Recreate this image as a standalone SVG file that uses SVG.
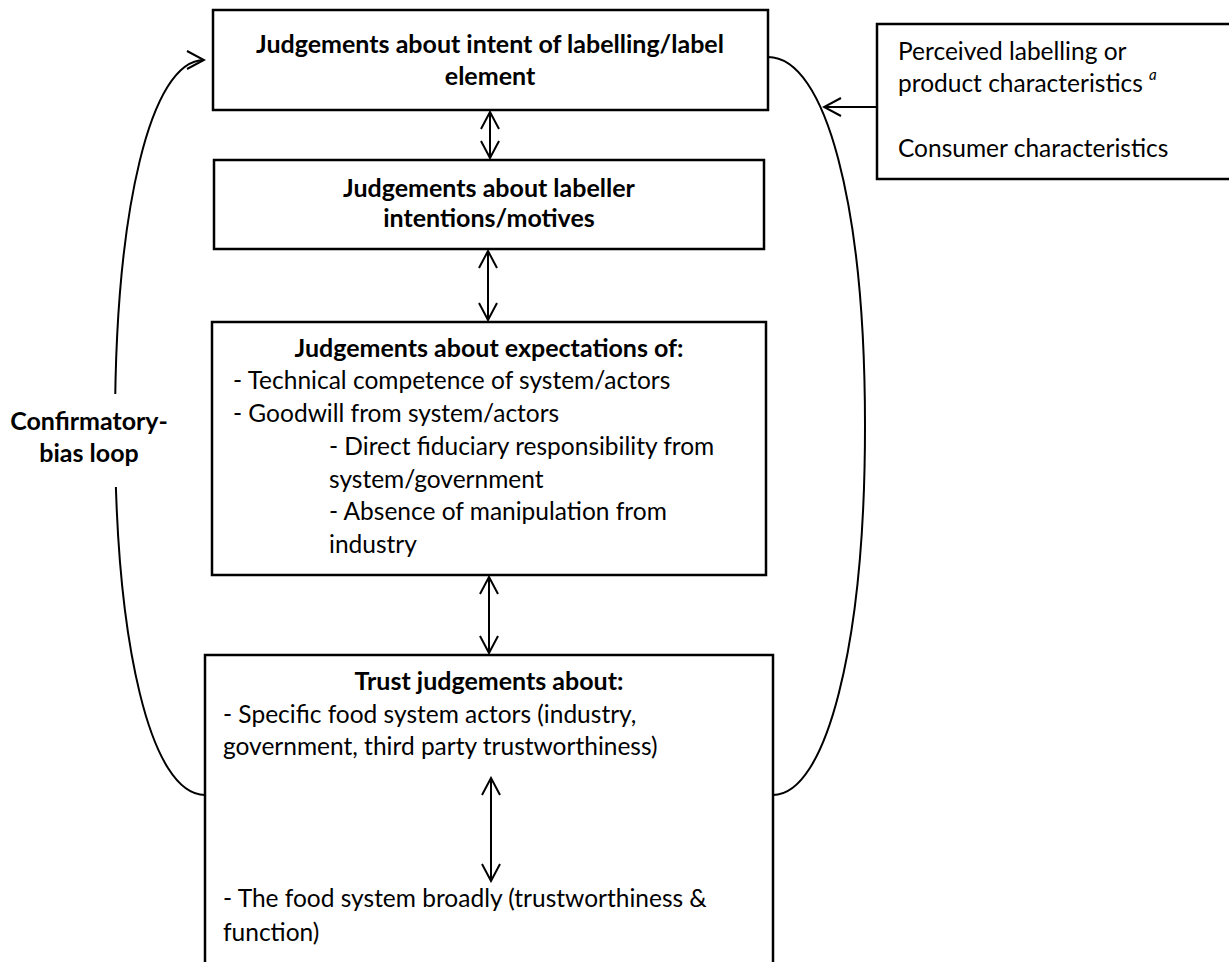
<svg xmlns="http://www.w3.org/2000/svg" width="1229" height="962" viewBox="0 0 1229 962">
<style>
.box{fill:#fff;stroke:#000;stroke-width:2.5}
.t{font-family:Lato,"Open Sans","Liberation Sans",sans-serif;font-size:24.5px;fill:#000}
.b{font-weight:bold;text-anchor:middle;font-size:25px}
.ln{fill:none;stroke:#000;stroke-width:2}
</style>
<defs>
<marker id="ah" viewBox="0 0 20 20" refX="18" refY="10" markerWidth="20" markerHeight="20" markerUnits="userSpaceOnUse" orient="auto-start-reverse">
<path d="M1,1 L18,10 L1,19" fill="none" stroke="#000" stroke-width="2"/>
</marker>
</defs>
<rect width="1229" height="962" fill="#fff"/>
<g id="connectors">
<path class="ln" d="M768,57 C826,57 865,206 865,426 C865,646 826,795 773,795"/>
<path class="ln" d="M205,795 C151,795 115,646 115,427 C115,208 151,60 204,60" marker-end="url(#ah)"/>
<rect x="100" y="394" width="30" height="93" fill="#fff"/>
<line class="ln" x1="877" y1="107" x2="824" y2="107" marker-end="url(#ah)"/>
<line class="ln" x1="490" y1="112" x2="490" y2="158" marker-start="url(#ah)" marker-end="url(#ah)"/>
<line class="ln" x1="488" y1="251" x2="488" y2="320" marker-start="url(#ah)" marker-end="url(#ah)"/>
<line class="ln" x1="489" y1="577" x2="489" y2="653" marker-start="url(#ah)" marker-end="url(#ah)"/>
</g>
<text class="t b" x="89" y="430">Confirmatory-</text>
<text class="t b" x="89" y="462">bias loop</text>
<g id="n1">
<rect class="box" x="213" y="10" width="555" height="100"/>
<text class="t b" x="490" y="53">Judgements about intent of labelling/label</text>
<text class="t b" x="490" y="85">element</text>
</g>
<g id="n2">
<rect class="box" x="214" y="160" width="550" height="89"/>
<text class="t b" x="489" y="197">Judgements about labeller</text>
<text class="t b" x="489" y="227">intentions/motives</text>
</g>
<g id="n3">
<rect class="box" x="212" y="322" width="554" height="253"/>
<text class="t b" x="489" y="357">Judgements about expectations of:</text>
<text class="t" x="233" y="389">- Technical competence of system/actors</text>
<text class="t" x="233" y="422">- Goodwill from system/actors</text>
<text class="t" x="329" y="455">- Direct fiduciary responsibility from</text>
<text class="t" x="329" y="488">system/government</text>
<text class="t" x="329" y="520">- Absence of manipulation from</text>
<text class="t" x="329" y="553">industry</text>
</g>
<g id="n4">
<rect class="box" x="205" y="655" width="568" height="320"/>
<text class="t b" x="489" y="690">Trust judgements about:</text>
<text class="t" x="223" y="723">- Specific food system actors (industry,</text>
<text class="t" x="223" y="755">government, third party trustworthiness)</text>
<line class="ln" x1="491" y1="778" x2="491" y2="881" marker-start="url(#ah)" marker-end="url(#ah)"/>
<text class="t" x="223" y="907">- The food system broadly (trustworthiness &amp;</text>
<text class="t" x="223" y="941">function)</text>
</g>
<g id="n5">
<rect class="box" x="877" y="24" width="360" height="155"/>
<text class="t" x="898" y="60">Perceived labelling or</text>
<text class="t" x="898" y="92">product characteristics</text>
<text class="t" x="1149" y="80" style="font-size:15px;font-style:italic">a</text>
<text class="t" x="898" y="157">Consumer characteristics</text>
</g>
</svg>
